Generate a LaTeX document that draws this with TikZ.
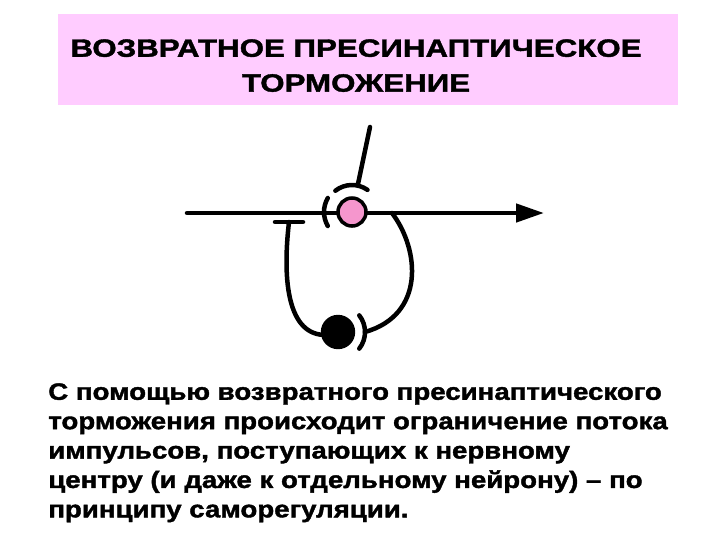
\documentclass[tikz,border=0pt]{standalone}
\usepackage{fontspec}
\setmainfont{Liberation Sans}
\newfontfamily\titlefont{Liberation Sans Bold}[FakeStretch=1.25,FakeBold=1.6]
\newfontfamily\bodyfont{Liberation Sans Bold}[FakeStretch=1.17,FakeBold=1.6]
\usepackage{xcolor}
\definecolor{mypink}{RGB}{255,204,255}
\definecolor{mycellpink}{RGB}{245,150,205}
\usepackage{tikz}
\usetikzlibrary{calc,arrows.meta,positioning}
\tikzstyle{fibre}=[line width=3.2pt,line cap=round]
\tikzstyle{precell}=[draw,line width=2.5pt,fill=mycellpink,circle,minimum size=0.7cm,inner sep=0pt]
\tikzstyle{intercell}=[fill=black,circle,minimum size=0.86cm,inner sep=0pt]

\begin{document}
\begin{tikzpicture}[x=0.025cm,y=-0.025cm]
\useasboundingbox (0,0) rectangle (720,540);
\fill[mypink] (58,14) rectangle (678,105);
\node [anchor=north,align=center,inner sep=0pt,font=\titlefont\fontsize{17.8}{24.8}\selectfont] (title) at (356,39)
  {ВОЗВРАТНОЕ ПРЕСИНАПТИЧЕСКОЕ\\ТОРМОЖЕНИЕ};

\coordinate (axonin) at (187,213);
\coordinate (axonout) at (544,213);
\coordinate (topin) at (370,127);
\coordinate (topend) at (358,184);
\coordinate (branch) at (392,213);
\coordinate (tbar) at (289,222);
\coordinate (intersyn) at (365,332);

\draw [fibre,-{Triangle[length=0.7cm,width=0.45cm]}] (axonin) -- (axonout);
\draw [fibre] (topin) -- (topend);
\draw [fibre] (275,222) -- (303,222);
\draw [fibre] (tbar) .. controls (280,300) and (295,345) .. (338,333);
\draw [fibre] (branch) .. controls (420,250) and (425,315) .. (intersyn);

\node [precell] (pre) at (352,212) {};
\node [intercell] (inter) at (338,332) {};

\draw [fibre] (pre) ++(232:27) arc [start angle=232,end angle=305,radius=27];
\draw [fibre] (pre) ++(150:28) arc [start angle=150,end angle=210,radius=28];
\draw [fibre] (inter) ++(-38:27) arc [start angle=-38,end angle=38,radius=27];

\node [anchor=north west,align=left,inner sep=0pt,font=\bodyfont\fontsize{16.8}{20.9}\selectfont] (caption) at (48,383)
  {С помощью возвратного пресинаптического\\торможения происходит ограничение потока\\импульсов, поступающих к нервному\\центру (и даже к отдельному нейрону) – по\\принципу саморегуляции.};
\end{tikzpicture}
\end{document}
